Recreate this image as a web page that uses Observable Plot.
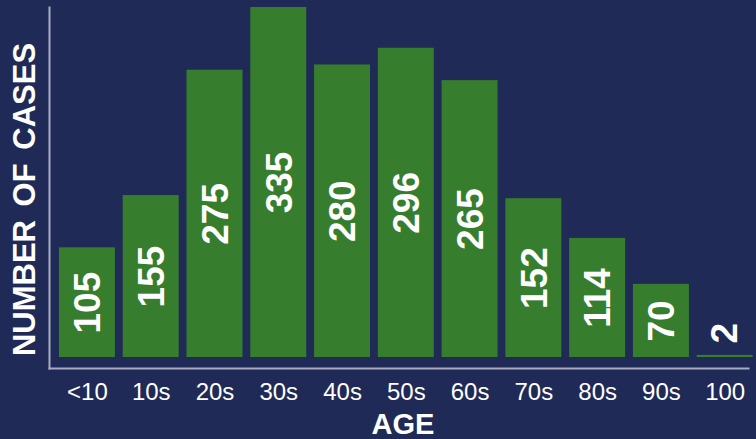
<!DOCTYPE html>
<html><head><meta charset="utf-8">
<script src="https://cdn.jsdelivr.net/npm/d3@7"></script>
<script src="https://cdn.jsdelivr.net/npm/@observablehq/plot@0.6"></script>
<style>html,body{margin:0;padding:0;background:#1f2a56;overflow:hidden} svg text{word-spacing:5px}</style>
</head><body><div id="chart"></div>
<script>
const ages = ["<10", "10s", "20s", "30s", "40s", "50s", "60s", "70s", "80s", "90s", "100"];
const cases = [105, 155, 275, 335, 280, 296, 265, 152, 114, 70, 2];
const yTitle = "NUMBER OF CASES";
const xTitle = "AGE";

const data = ages.map((a, i) => ({age: a, cases: cases[i]}));
const maxCases = d3.max(cases);
const font = "'Liberation Sans', Arial, Helvetica, sans-serif";
const axisColor = "#a9adc4";

const chart = Plot.plot({
  width: 756,
  height: 439,
  marginLeft: 49,
  marginRight: 0,
  marginTop: 7,
  marginBottom: 71,
  style: {background: "#1f2a56", color: "white", fontFamily: font},
  x: {domain: ages, paddingInner: 0.122, paddingOuter: 0.104, align: 0.75, round: false, label: null},
  y: {domain: [0, maxCases], insetBottom: 11, axis: null},
  marks: [
    Plot.barY(data, {x: "age", y: "cases", fill: "#367d2e"}),
    Plot.text(data.filter(d => d.cases >= 20), {
      x: "age", y: d => d.cases / 2, text: d => String(d.cases),
      rotate: -90, fill: "white", fontSize: 37, fontWeight: "bold", dx: 1
    }),
    Plot.text(data.filter(d => d.cases < 20), {
      x: "age", y: "cases", text: d => String(d.cases),
      rotate: -90, textAnchor: "start", dy: -12, fill: "white", fontSize: 37, fontWeight: "bold"
    }),
    Plot.frame({anchor: "left", stroke: axisColor, strokeWidth: 2}),
    Plot.frame({anchor: "bottom", stroke: axisColor, strokeWidth: 2, insetRight: 8}),
    Plot.axisX({tickSize: 0, tickPadding: 14, fontSize: 24, label: null, fill: "white"}),
    Plot.text([xTitle], {frameAnchor: "bottom", dy: 56, lineAnchor: "middle", fontSize: 29, fontWeight: "bold", fill: "white"}),
    Plot.text([yTitle], {frameAnchor: "left", textAnchor: "middle", dx: -24, dy: 11.5, rotate: -90, fontSize: 31, fontWeight: "bold", fill: "white"})
  ]
});
document.getElementById("chart").appendChild(chart);
</script>
</body></html>
